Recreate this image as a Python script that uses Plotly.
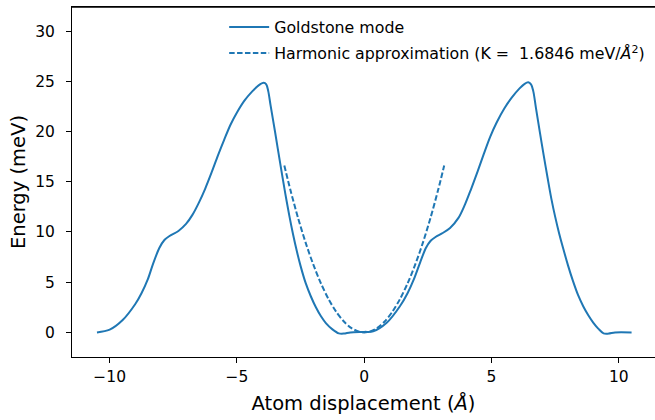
import plotly.graph_objects as go

# Goldstone mode energy profile
goldstone_x = [-10.5, -10.0, -9.5, -9.0, -8.75, -8.5, -8.3, -8.05, -7.85, -7.65,
               -7.3, -7.0, -6.75, -6.5, -6.25, -6.0, -5.75, -5.5, -5.25, -5.0,
               -4.7, -4.4, -4.15, -3.95, -3.85, -3.77, -3.68, -3.5, -3.3, -3.1,
               -2.95, -2.8, -2.65, -2.5, -2.3, -2.1, -1.9, -1.7, -1.5, -1.25,
               -1.0, -0.8, -0.55, 0.0, 0.35, 0.88, 1.4, 1.7, 1.95, 2.2,
               2.42, 2.6, 2.8, 3.05, 3.37, 3.7, 3.95, 4.2, 4.45, 4.7,
               4.95, 5.2, 5.5, 5.8, 6.1, 6.3, 6.44, 6.55, 6.64, 6.74,
               6.9, 7.05, 7.2, 7.35, 7.5, 7.65, 7.82, 8.0, 8.2, 8.4,
               8.6, 8.8, 9.0, 9.2, 9.4, 9.6, 9.85, 10.5]
goldstone_y = [0.0, 0.27, 1.2, 2.8, 3.9, 5.3, 6.8, 8.4, 9.2, 9.6,
               10.1, 10.8, 11.7, 12.9, 14.3, 15.9, 17.6, 19.2, 20.7, 21.9,
               23.1, 24.0, 24.6, 24.85, 24.7, 24.0, 22.6, 19.9, 16.8, 13.8,
               11.7, 9.8, 8.1, 6.6, 4.9, 3.6, 2.5, 1.6, 0.9, 0.3,
               -0.1, -0.12, 0.0, 0.05, 0.1, 0.95, 2.6, 3.9, 5.3, 7.0,
               8.4, 9.1, 9.5, 9.85, 10.4, 11.4, 12.7, 14.3, 16.0, 17.8,
               19.5, 20.9, 22.3, 23.4, 24.3, 24.75, 24.9, 24.7, 24.0, 22.4,
               19.9, 17.6, 15.4, 13.3, 11.5, 9.9, 8.3, 6.7, 5.1, 3.7,
               2.6, 1.7, 0.95, 0.35, -0.1, -0.12, 0.0, 0.0]

# Harmonic approximation (K = 1.6846 meV/A^2)
harmonic_x = [-3.14, -2.9, -2.6, -2.3, -2.0, -1.7, -1.4, -1.1, -0.8, -0.5, -0.2,
              0.0, 0.2, 0.5, 0.8, 1.1, 1.4, 1.7, 2.0, 2.3, 2.6, 2.9, 3.14]
harmonic_y = [16.61, 14.17, 11.39, 8.91, 6.74, 4.87, 3.30, 2.04, 1.08, 0.42, 0.07,
              0.0, 0.07, 0.42, 1.08, 2.04, 3.30, 4.87, 6.74, 8.91, 11.39, 14.17, 16.61]

x_ticks = [-10, -5, 0, 5, 10]
x_ticktext = ["\u221210", "\u22125", "0", "5", "10"]
y_ticks = [0, 5, 10, 15, 20, 25, 30]

color = "#1f77b4"
font_main = "DejaVu Sans"

fig = go.Figure()
fig.add_trace(go.Scatter(
    x=goldstone_x, y=goldstone_y, mode="lines", name="Goldstone mode",
    line=dict(color=color, width=2, shape="spline", smoothing=0.9),
    legend="legend", showlegend=True))
fig.add_trace(go.Scatter(
    x=harmonic_x, y=harmonic_y, mode="lines",
    name="Harmonic approximation (K =\u00a0 1.6846 meV/<i>Å</i><sup>2</sup>)",
    line=dict(color=color, width=2, dash="5.5px,2.4px", shape="spline", smoothing=0.8),
    legend="legend2", showlegend=True))

axis_common = dict(
    showgrid=False, zeroline=False, showline=True, linecolor="#000000", linewidth=1,
    ticks="outside", ticklen=5, tickwidth=1, tickcolor="#000000",
    tickfont=dict(family=font_main, size=15.5, color="#000000"),
)

legend_common = dict(xanchor="left", yanchor="middle", itemwidth=40,
                     bgcolor="rgba(0,0,0,0)", borderwidth=0,
                     font=dict(family=font_main, size=15.8, color="#000000"))

fig.update_layout(
    width=655, height=420,
    margin=dict(l=72, r=0, t=7, b=63),
    paper_bgcolor="white", plot_bgcolor="white",
    showlegend=True,
    xaxis=dict(range=[-11.48, 11.42], tickvals=x_ticks, ticktext=x_ticktext,
               mirror=True,
               title=dict(text="Atom displacement (<i>Å</i>)",
                          font=dict(family=font_main, size=19.5, color="#000000"),
                          standoff=11),
               **axis_common),
    yaxis=dict(range=[-2.45, 32.4], tickvals=y_ticks, ticklabelstandoff=8,
               title=dict(text="Energy (meV)",
                          font=dict(family=font_main, size=19.5, color="#000000"),
                          standoff=4),
               **axis_common),
    legend=dict(x=0.261, y=0.942, **legend_common),
    legend2=dict(x=0.261, y=0.868, **legend_common),
    shapes=[dict(type="line", xref="paper", yref="paper", x0=0, x1=1, y0=1, y1=1,
                 layer="above", line=dict(color="#000000", width=1.3))],
)

fig.write_html("out.html")
